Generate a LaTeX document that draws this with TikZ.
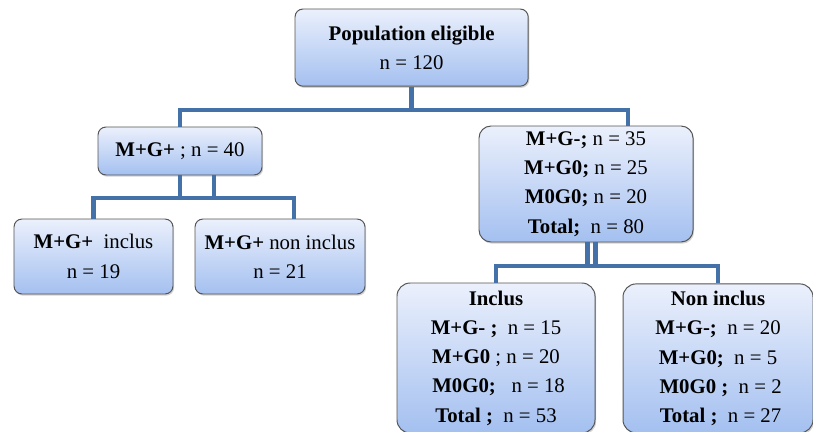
\documentclass[tikz,border=0pt]{standalone}
\usepackage{fontspec}
\setmainfont{Liberation Serif}
\usepackage{tikz}
\usetikzlibrary{calc,shadows}
\definecolor{boxtop}{RGB}{235,240,252}
\definecolor{boxbot}{RGB}{164,192,240}
\definecolor{boxline}{RGB}{85,85,85}
\definecolor{connblue}{RGB}{68,114,168}

\begin{document}
\begin{tikzpicture}[
  box/.style={rectangle, draw=boxline, line width=0.7pt, rounded corners=0.2cm,
              top color=boxtop, bottom color=boxbot, align=center,
              inner sep=0pt, font=\fontsize{14.8}{20.8}\selectfont,
              drop shadow={shadow xshift=0.8pt, shadow yshift=-1.2pt, opacity=0.35}},
  bigbox/.style={box, rounded corners=0.33cm},
  conn/.style={line width=3.5pt, draw=connblue},
]
\useasboundingbox (0,0) rectangle (20.325,-10.8);

% Top level
\node[box, minimum width=5.83cm, minimum height=1.93cm] (pop) at (10.29,-1.19)
  {\textbf{Population eligible}\\n = 120};

% Left branch
\node[box, minimum width=4.1cm, minimum height=1.2cm] (mgp) at (4.5,-3.775)
  {\textbf{M+G+} ; n = 40};
\node[box, minimum width=3.975cm, minimum height=1.875cm] (mgpin) at (2.3375,-6.4125)
  {\textbf{M+G+}\ \ inclus\\n = 19};
\node[box, minimum width=4.25cm, minimum height=1.875cm] (mgpout) at (7.0,-6.4125)
  {\textbf{M+G+} non inclus\\n = 21};

% Right branch
\node[box, rounded corners=0.3cm, minimum width=5.35cm, minimum height=2.9cm] (rest) at (14.65,-4.6)
  {\textbf{M+G-;} n = 35\\\textbf{M+G0;} n = 25\\\textbf{M0G0;} n = 20\\\textbf{Total;}\ \ n = 80};
\node[bigbox, minimum width=4.95cm, minimum height=3.75cm] (restin) at (12.4,-8.95)
  {\textbf{Inclus}\\\textbf{M+G- ;}\ \ n = 15\\\textbf{M+G0} ; n = 20\\
   \ \textbf{M0G0;}\ \ \ n = 18\\\textbf{Total ;}\ \ n = 53};
\node[bigbox, minimum width=4.75cm, minimum height=3.725cm] (restout) at (17.95,-8.96)
  {\textbf{Non inclus}\\\textbf{M+G-;}\ \ n = 20\\\textbf{M+G0;}\ \ n = 5\\
   \ \textbf{M0G0 ;}\ \ n = 2\\\ \textbf{Total ;}\ \ n = 27};

% Connectors
\coordinate (bar1) at (0,-2.75);
\coordinate (bar2) at (0,-4.95);
\coordinate (bar3) at (0,-6.65);
\draw[conn] (pop.south) -- (pop.south |- bar1) -| (mgp.north);
\draw[conn] (pop.south |- bar1) -| ($(rest.north)+(1.05,0)$);
\draw[conn] ($(mgp.south)+(0.85,0)$) -- ($(mgp.south |- bar2)+(0.85,0)$) -| (mgpin.north);
\draw[conn] (mgp.south) -- (mgp.south |- bar2) -| ($(mgpout.north)+(0.35,0)$);
\draw[conn] ($(rest.south)+(0.23,0)$) -- ($(rest.south |- bar3)+(0.23,0)$) -| (restin.north);
\draw[conn] ($(rest.south)+(0.03,0)$) -- ($(rest.south |- bar3)+(0.03,0)$) -| (restout.north);

\end{tikzpicture}
\end{document}
